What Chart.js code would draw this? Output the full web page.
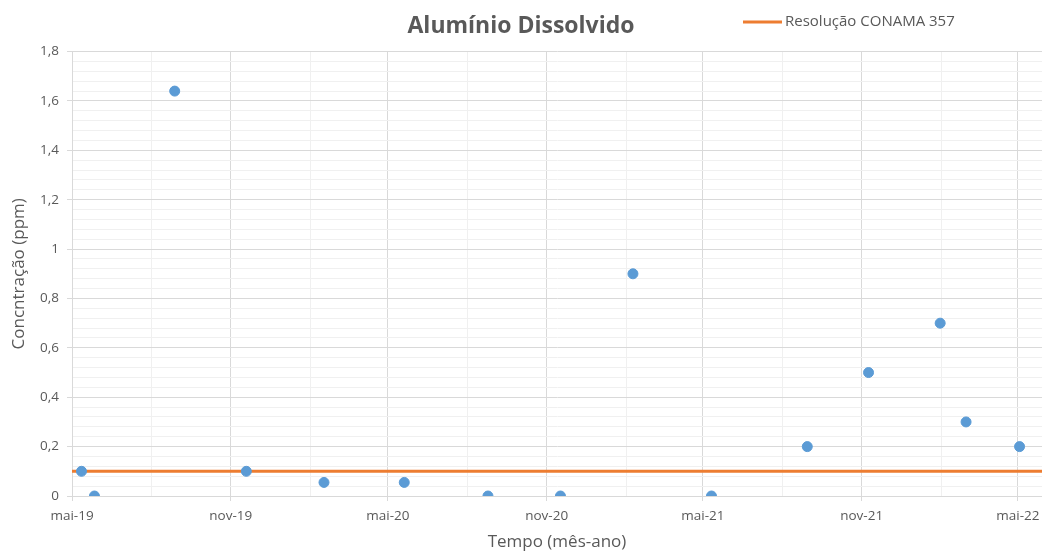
<!DOCTYPE html>
<html lang="pt-BR">
<head>
<meta charset="utf-8">
<title>Alumínio Dissolvido</title>
<script src="https://cdn.jsdelivr.net/npm/chart.js@4.4.1/dist/chart.umd.min.js"></script>
<style>
  html, body { margin: 0; padding: 0; background: #ffffff; }
  #wrap { width: 1042px; height: 552px; position: relative; }
</style>
</head>
<body>
<div id="wrap"><canvas id="grafico"></canvas></div>
<script>
// Datas de coleta e concentrações medidas (ppm)
const datasColeta = [
  '2019-05-12', '2019-05-27', '2019-08-28', '2019-11-19', '2020-02-17',
  '2020-05-20', '2020-08-25', '2020-11-17', '2021-02-09', '2021-05-11',
  '2021-08-30', '2021-11-09', '2022-01-31', '2022-03-02', '2022-05-03'
];
const concentracoes = [
  0.1, 0, 1.64, 0.1, 0.055,
  0.055, 0, 0, 0.9, 0,
  0.2, 0.5, 0.7, 0.3, 0.2
];
// Limite da Resolução CONAMA 357 (ppm)
const limiteConama = 0.1;
const rotuloLimite = 'Resolução CONAMA 357';

// Marcas do eixo de tempo: a cada 3 meses (rótulo só em maio e novembro)
const mesesAbrev = ['jan','fev','mar','abr','mai','jun','jul','ago','set','out','nov','dez'];
const marcasTempo = [
  '2019-05-01','2019-08-01','2019-11-01','2020-02-01','2020-05-01','2020-08-01',
  '2020-11-01','2021-02-01','2021-05-01','2021-08-01','2021-11-01','2022-02-01','2022-05-01'
];
// Marcas do eixo de concentração
const passoMenor = 0.04;
const passoMaior = 0.2;
const yMax = 1.8;

const paraMs = s => { const [a, m, d] = s.split('-').map(Number); return Date.UTC(a, m - 1, d); };
const xMin = paraMs('2019-05-01');
const xMax = paraMs('2022-05-29');

const pontos = datasColeta.map((d, i) => ({ x: paraMs(d), y: concentracoes[i] }));
const linhaLimite = [{ x: xMin, y: limiteConama }, { x: xMax, y: limiteConama }];

const corTexto = '#595959';
const gradeMaior = '#d9d9d9';
const gradeMenor = '#f0f0f0';
const fonte = '"Open Sans", "DejaVu Sans", sans-serif';

const ehMaiorX = v => { const m = new Date(v).getUTCMonth(); return m === 4 || m === 10; };
const ehMaiorY = v => Math.abs(v / passoMaior - Math.round(v / passoMaior)) < 1e-6;

// Legenda desenhada ao lado do título
const legendaTopo = {
  id: 'legendaTopo',
  afterDraw(chart) {
    const ds = chart.data.datasets[1];
    const ctx = chart.ctx;
    ctx.save();
    ctx.strokeStyle = ds.borderColor;
    ctx.lineWidth = 3;
    ctx.beginPath();
    ctx.moveTo(743, 22);
    ctx.lineTo(782, 22);
    ctx.stroke();
    ctx.fillStyle = corTexto;
    ctx.font = '15px ' + fonte;
    ctx.textBaseline = 'middle';
    ctx.textAlign = 'left';
    ctx.fillText(ds.label, 785, 22);
    ctx.restore();
  }
};

new Chart(document.getElementById('grafico'), {
  type: 'scatter',
  data: {
    datasets: [
      {
        label: 'Alumínio Dissolvido',
        data: pontos,
        backgroundColor: '#5b9bd5',
        borderColor: '#5b9bd5',
        pointRadius: 5,
        pointHoverRadius: 5,
        order: 1
      },
      {
        label: rotuloLimite,
        data: linhaLimite,
        showLine: true,
        borderColor: '#ed7d31',
        backgroundColor: '#ed7d31',
        borderWidth: 3,
        pointRadius: 0,
        pointHoverRadius: 0,
        order: 2
      }
    ]
  },
  options: {
    responsive: true,
    maintainAspectRatio: false,
    animation: false,
    layout: { autoPadding: false, padding: { left: 0, right: 0, top: 0, bottom: 0 } },
    plugins: {
      legend: { display: false },
      tooltip: { enabled: false },
      title: {
        display: true,
        text: 'Alumínio Dissolvido',
        color: corTexto,
        font: { family: fonte, size: 23, weight: 'bold' },
        padding: { top: 13, bottom: 11 }
      }
    },
    scales: {
      x: {
        type: 'linear',
        min: xMin,
        max: xMax,
        afterBuildTicks: s => { s.ticks = marcasTempo.map(d => ({ value: paraMs(d) })); },
        afterFit: s => { s.height = 56; s.paddingLeft = 0; s.paddingRight = 0; },
        ticks: {
          autoSkip: false,
          maxRotation: 0,
          color: corTexto,
          font: { family: fonte, size: 13.5 },
          padding: 7,
          callback: v => {
            const d = new Date(v);
            return ehMaiorX(v) ? mesesAbrev[d.getUTCMonth()] + '-' + String(d.getUTCFullYear()).slice(2) : '';
          }
        },
        grid: {
          color: c => (c.tick && ehMaiorX(c.tick.value)) ? gradeMaior : gradeMenor,
          tickColor: c => (c.tick && ehMaiorX(c.tick.value)) ? gradeMaior : 'rgba(0,0,0,0)',
          tickLength: 5,
          lineWidth: 1
        },
        border: { color: gradeMaior },
        title: {
          display: true,
          text: 'Tempo (mês-ano)',
          color: corTexto,
          font: { family: fonte, size: 17 },
          padding: { top: 2, bottom: 0 }
        }
      },
      y: {
        min: 0,
        max: yMax,
        afterBuildTicks: s => {
          const n = Math.round(yMax / passoMenor);
          s.ticks = Array.from({ length: n + 1 }, (_, i) => ({ value: Math.round(i * passoMenor * 100) / 100 }));
        },
        afterFit: s => { s.width = 72; },
        ticks: {
          autoSkip: false,
          color: corTexto,
          font: { family: fonte, size: 13.5 },
          padding: 8,
          callback: v => ehMaiorY(v) ? String(Math.round(v * 10) / 10).replace('.', ',') : ''
        },
        grid: {
          color: c => (c.tick && ehMaiorY(c.tick.value)) ? gradeMaior : gradeMenor,
          tickColor: c => (c.tick && ehMaiorY(c.tick.value)) ? gradeMaior : 'rgba(0,0,0,0)',
          tickLength: 5,
          lineWidth: 1
        },
        border: { color: gradeMaior },
        title: {
          display: true,
          text: 'Concntração (ppm)',
          color: corTexto,
          font: { family: fonte, size: 17 },
          padding: { top: 9, bottom: 4 }
        }
      }
    }
  },
  plugins: [legendaTopo]
});
</script>
</body>
</html>
